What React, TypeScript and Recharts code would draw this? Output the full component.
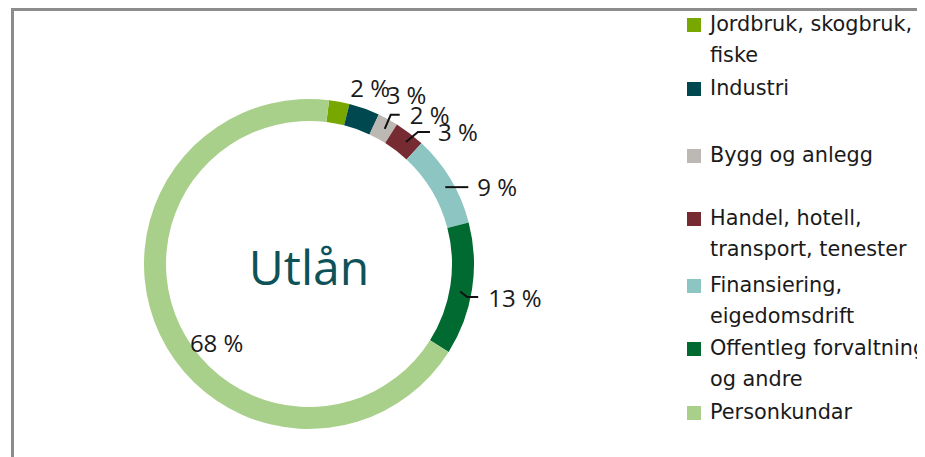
import React from 'react';
import { PieChart, Pie, Cell, Legend } from 'recharts';

const categories = [
  'Jordbruk, skogbruk, fiske',
  'Industri',
  'Bygg og anlegg',
  'Handel, hotell, transport, tenester',
  'Finansiering, eigedomsdrift',
  'Offentleg forvaltning og andre',
  'Personkundar',
];
const shares = [2, 3, 2, 3, 9, 13, 68];
const colors = ['#78a800', '#004850', '#bcb8b4', '#762b32', '#8cc5c1', '#006a30', '#a9d08b'];
const centerTitle = 'Utlån';

const data = categories.map((name, i) => ({ name, value: shares[i] }));

// label placement relative to the ring mid-point of each slice (style only)
const labelLayout: { dx: number; dy: number; line?: number[][] }[] = [
  { dx: 13, dy: -25 },
  { dx: 26, dy: -24 },
  { dx: 27, dy: -14, line: [[2, 0], [8, -14], [17, -14]] },
  { dx: 35, dy: -10, line: [[3, 0], [15, -10], [27, -10]] },
  { dx: 36, dy: 1, line: [[4, 2], [27, 2]] },
  { dx: 27, dy: 10, line: [[-1, 4], [6, 9.5], [17, 9.5]] },
  { dx: 20, dy: 12 },
];
const legendTops = [0.5, 64.5, 131.5, 194.5, 261.5, 324.5, 388.5];

const RADIAN = Math.PI / 180;

const renderLabel = (props: any) => {
  const { cx, cy, midAngle, innerRadius, outerRadius, index, value } = props;
  const r = (innerRadius + outerRadius) / 2;
  const mx = cx + r * Math.cos(-midAngle * RADIAN);
  const my = cy + r * Math.sin(-midAngle * RADIAN);
  const lay = labelLayout[index];
  return (
    <g key={`lbl-${index}`}>
      {index === 0 && (
        <text
          x={cx}
          y={cy + 21}
          textAnchor="middle"
          fontFamily="'Open Sans', sans-serif"
          fontSize={48}
          fontWeight={500}
          fill="#0c5258"
        >
          {centerTitle}
        </text>
      )}
      {lay.line && (
        <polyline
          points={lay.line.map(([dx, dy]) => `${mx + dx},${my + dy}`).join(' ')}
          stroke="#111"
          strokeWidth={2}
          fill="none"
        />
      )}
      <text
        x={mx + lay.dx}
        y={my + lay.dy}
        textAnchor="start"
        dominantBaseline="central"
        fontFamily="'Open Sans', sans-serif"
        fontSize={24}
        fill="#1a1a1a"
      >
        {`${value} %`}
      </text>
    </g>
  );
};

const renderLegend = () => {
  return (
    <div style={{ position: 'relative', width: 917, height: 449 }}>
      {categories.map((name, i) => (
        <div
          key={name}
          style={{
            position: 'absolute',
            left: 679,
            top: legendTops[i],
            display: 'flex',
            alignItems: 'flex-start',
          }}
        >
          <div
            style={{
              width: 14,
              height: 14,
              marginTop: 9,
              background: colors[i],
              flex: '0 0 14px',
            }}
          />
          <div
            style={{
              marginLeft: 9,
              width: 224,
              fontFamily: "'DejaVu Sans', sans-serif",
              fontSize: 20.8,
              lineHeight: '31px',
              color: '#1a1a1a',
              whiteSpace: 'normal',
            }}
          >
            {name}
          </div>
        </div>
      ))}
    </div>
  );
};

export default function App() {
  return (
    <div style={{ position: 'relative', width: 917, height: 449, background: '#fff', overflow: 'hidden' }}>
      <div
        style={{
          position: 'absolute',
          left: 3,
          top: 0,
          right: -10,
          bottom: -10,
          borderTop: '3px solid #8c8c8c',
          borderLeft: '3px solid #8c8c8c',
        }}
      />
      <PieChart
        width={917}
        height={449}
        margin={{ top: 0, right: 0, bottom: 0, left: 0 }}
        style={{ position: 'absolute', left: 0, top: 0 }}
      >
        <Pie
          data={data}
          dataKey="value"
          nameKey="name"
          cx={301}
          cy={256}
          innerRadius={143}
          outerRadius={165}
          startAngle={83}
          endAngle={-277}
          stroke="none"
          label={renderLabel}
          labelLine={false}
          isAnimationActive={false}
        >
          {data.map((d, i) => (
            <Cell key={d.name} fill={colors[i]} />
          ))}
        </Pie>
        <Legend
          content={renderLegend}
          wrapperStyle={{ position: 'absolute', left: 0, top: 0, width: 917, height: 449 }}
        />
      </PieChart>
    </div>
  );
}
